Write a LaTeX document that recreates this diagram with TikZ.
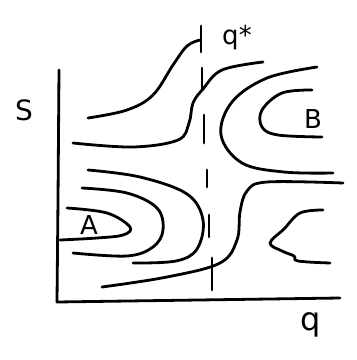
\documentclass[tikz,border=0pt]{standalone}
\usepackage{fontspec}
\setmainfont{DejaVu Sans}
\begin{document}
\begin{tikzpicture}[x=1pt,y=-1pt,
  ink/.style={line width=2.8pt,line cap=round,line join=round},
  lbl/.style={inner sep=0pt,font=\fontsize{26}{26}\selectfont}]
\useasboundingbox (0,0) rectangle (357,360);
% axes
\coordinate (yt) at (59,70);
\coordinate (o) at (57,302);
\coordinate (xe) at (340,298);
\draw[ink] (yt) -- (58,200) -- (o) -- (xe);
% dashed q* line
\draw[ink] (201,26) -- (201,52);
\draw[ink] (202,68) -- (202,90);
\draw[ink] (204,115) -- (204,143);
\draw[ink] (207,170) -- (207,187);
\draw[ink] (209,215) -- (209,237);
\draw[ink] (212,258) -- (212,290);
% curve 1
\draw[ink] plot[smooth,tension=0.6] coordinates {(88,118) (127,110) (153,95) (173,65) (187,46) (200,40)};
% curve 2
\draw[ink] plot[smooth,tension=0.6] coordinates {(73,143) (133,147) (178,140) (189,123) (193,103) (203,89) (222,70) (263,62)};
% curve 3 (outer around B)
\draw[ink] plot[smooth,tension=0.6] coordinates {(317,67) (267,78) (232,102) (221,135) (242,163) (284,172) (333,173)};
% curve 4 (inner B)
\draw[ink] plot[smooth,tension=0.6] coordinates {(312,90) (282,93) (262,110) (262,127) (278,135) (322,137)};
% curve 5
\draw[ink] plot[smooth,tension=0.6] coordinates {(343,183) (267,182) (247,191) (240,212) (237,240) (220,263) (167,277) (102,287)};
% curve 6 (lower right)
\draw[ink] plot[smooth,tension=0.6] coordinates {(323,210) (300,213) (284,229) (270,243) (282,251) (294,256) (298,261) (330,263)};
% curve 7
\draw[ink] plot[smooth,tension=0.6] coordinates {(88,170) (140,177) (187,194) (203,220) (197,249) (176,261) (133,263)};
% curve 8
\draw[ink] plot[smooth,tension=0.6] coordinates {(82,188) (127,193) (157,208) (163,230) (153,247) (127,256) (73,253)};
% curve 9 (inner A)
\draw[ink] plot[smooth,tension=0.6] coordinates {(67,208) (107,213) (130,227) (123,235) (97,238) (60,240)};
% labels
\node[lbl,font=\fontsize{28}{28}\selectfont] (S) at (24,110) {S};
\node[lbl,font=\fontsize{32}{32}\selectfont] (q) at (311,325) {q};
\node[lbl] (qs) at (237,38) {q*};
\node[lbl] (B) at (313,119) {B};
\node[lbl] (A) at (89,225) {A};
\end{tikzpicture}
\end{document}
